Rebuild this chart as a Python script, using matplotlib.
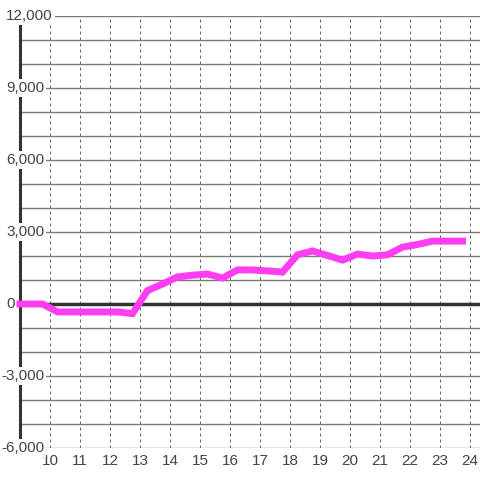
import matplotlib
matplotlib.use("Agg")
import matplotlib.pyplot as plt
import matplotlib.transforms as mtransforms

# hour of day and cumulative value
hours = [9.0, 9.75, 10.25, 10.75, 11.25, 11.75, 12.25, 12.75, 13.25, 13.75,
         14.25, 14.75, 15.25, 15.75, 16.25, 16.75, 17.25, 17.75, 18.25, 18.75,
         19.25, 19.75, 20.25, 20.75, 21.25, 21.75, 22.25, 22.75, 23.25, 23.75]
values = [0, 0, -330, -330, -330, -330, -330, -400, 560, 830,
          1130, 1200, 1250, 1080, 1420, 1420, 1380, 1330, 2050, 2210,
          2020, 1830, 2080, 2000, 2050, 2370, 2480, 2620, 2620, 2620]

x_ticks = list(range(10, 25))
y_grid = list(range(-6000, 12001, 1000))
y_labels = [-6000, -3000, 0, 3000, 6000, 9000, 12000]

plt.rcParams['font.family'] = ['Liberation Sans', 'DejaVu Sans']

fig = plt.figure(figsize=(4.8, 4.8), dpi=100)
ax = fig.add_axes([20 / 480, 1 - 448 / 480, 460 / 480, 432 / 480])

ax.set_xlim(9, 9 + 460 / 30)
ax.set_ylim(-6000, 12000)

for s in ['top', 'right', 'bottom']:
    ax.spines[s].set_visible(False)
ax.spines['left'].set_color('#333333')
ax.spines['left'].set_linewidth(2.2)
ax.spines['left'].set_zorder(3)

ax.set_xticks(x_ticks)
ax.set_yticks(y_grid)
ax.set_yticklabels([])
ax.tick_params(axis='both', length=0)
ax.tick_params(axis='x', pad=4, labelsize=11, labelcolor='#444444')

ax.set_axisbelow(True)
ax.grid(axis='y', color='#777777', linewidth=1.0, linestyle='-')
ax.grid(axis='x', color='#666666', linewidth=0.72, linestyle=(0, (3, 3)))

ax.axhline(0, color='#333333', linewidth=2.5, zorder=2)

ax.plot(hours, values, color='#ff3ef4', linewidth=5, solid_capstyle='projecting',
        solid_joinstyle='miter', zorder=6, clip_on=False)

# y labels sit inside the plot, left aligned, on white boxes
trans = mtransforms.blended_transform_factory(fig.transFigure, ax.transData)
for v in y_labels:
    xpos = 1 / 480 if v < 0 else 6 / 480
    ax.text(xpos, v, f"{v:,}", transform=trans, ha='left', va='center',
            fontsize=11, color='#444444', zorder=5,
            bbox=dict(facecolor='white', edgecolor='none', pad=1.5))

fig.savefig('out.png', dpi=100)
